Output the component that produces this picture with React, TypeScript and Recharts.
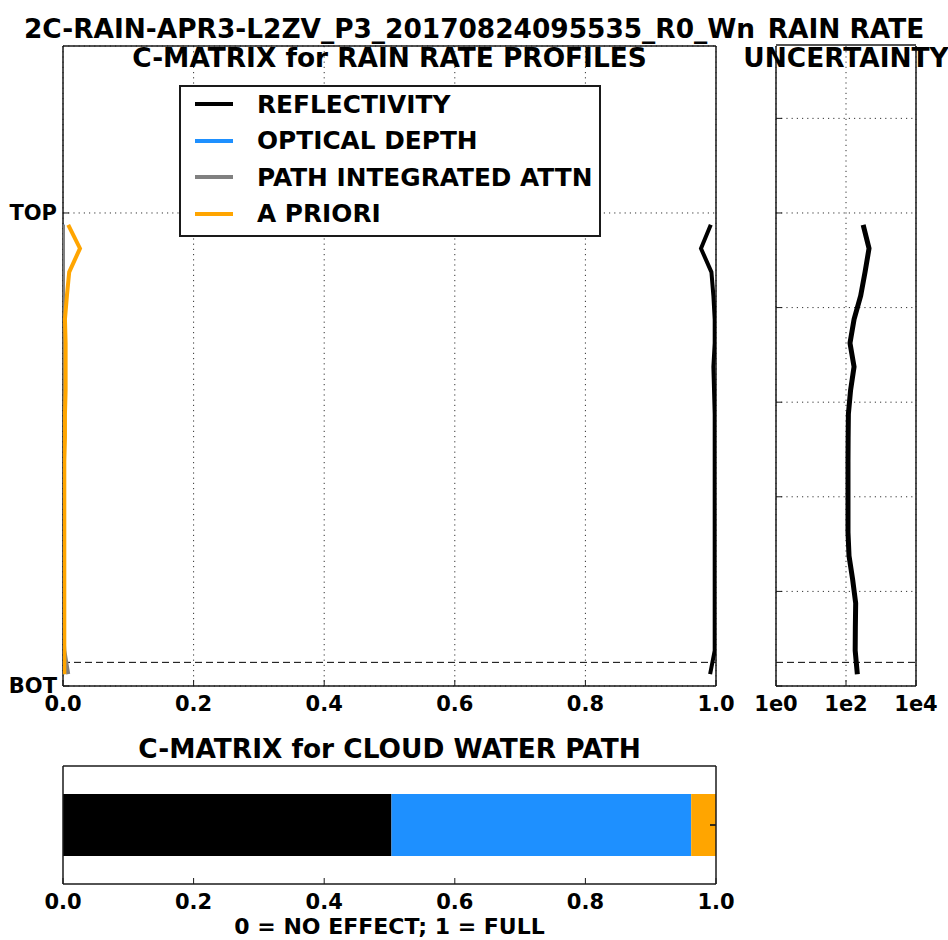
import {
  Bar,
  BarChart,
  CartesianGrid,
  Label,
  Legend,
  ReferenceLine,
  Scatter,
  ScatterChart,
  XAxis,
  YAxis,
} from 'recharts'

const FONT = '"DejaVu Sans", sans-serif'
const INK = '#1a1a1a'

// profile bins, BOT = 0 and TOP = 5, topmost bin first
const levels = [4.875, 4.625, 4.375, 4.125, 3.875, 3.625, 3.375, 3.125, 2.875, 2.625, 2.375, 2.125, 1.875, 1.625, 1.375, 1.125, 0.875, 0.625, 0.375, 0.125]
const reflectivity = [0.992, 0.977, 0.993, 0.996, 0.998, 0.998, 0.996, 0.997, 0.998, 0.998, 0.998, 0.998, 0.998, 0.998, 0.998, 0.998, 0.998, 0.998, 0.998, 0.991]
const opticalDepth = [0, 0, 0, 0, 0, 0, 0, 0, 0, 0, 0, 0, 0, 0, 0, 0, 0, 0, 0, 0]
const pathIntegratedAttn = [0, 0, 0, 0, 0, 0, 0, 0, 0, 0, 0, 0, 0, 0, 0, 0, 0, 0, 0.002, 0.008]
const aPriori = [0.008, 0.026, 0.0095, 0.006, 0.003, 0.004, 0.004, 0.004, 0.003, 0.003, 0.002, 0.002, 0.002, 0.002, 0.002, 0.002, 0.002, 0.002, 0.002, 0.002]
const rainRateUncertainty = [309, 455, 350, 263, 170, 130, 170, 135, 117, 115, 114, 114, 114, 114, 122, 155, 189, 185, 183, 211]

const seriesNames = ['REFLECTIVITY', 'OPTICAL DEPTH', 'PATH INTEGRATED ATTN', 'A PRIORI']
const seriesKeys = ['refl', 'od', 'pia', 'apr']
const seriesColors = ['#000000', '#1e90ff', '#808080', '#ffa500']
const profiles = [reflectivity, opticalDepth, pathIntegratedAttn, aPriori]

// cloud water path c-matrix, same order as the series
const cwpWeights = [0.503, 0.459, 0.0, 0.038]

const fractionTicks = [0, 0.2, 0.4, 0.6, 0.8, 1.0]
const levelTicks = [0, 5]
const levelTickLabels = ['BOT', 'TOP']
const levelMax = 6.765
const lowestBin = 0.25
const uncertaintyLevelTicks = [0, 1, 2, 3, 4, 5, 6]
const logTicks = [1, 100, 10000]
const logTickLabels = ['1e0', '1e2', '1e4']
const minorLogTicks = [2, 3, 4, 5, 6, 7, 8, 9, 20, 30, 40, 50, 60, 70, 80, 90, 200, 300, 400, 500, 600, 700, 800, 900, 2000, 3000, 4000, 5000, 6000, 7000, 8000, 9000]

const axisLine = { stroke: INK, strokeWidth: 1.5 }
const tickLine = { stroke: INK, strokeWidth: 1 }
const tickText = { fontSize: 21, fontWeight: 'bold', fill: '#000', fontFamily: FONT }
const gridProps = { stroke: '#333', strokeWidth: 1, strokeDasharray: '1.2 4' }
const dashed = { stroke: '#000', strokeWidth: 1, strokeDasharray: '7 4' }

const noDot = () => <g />
// tick marks only, no label
const bareTick = () => <g />

function PanelTitle({ center, top, lines }: { center: number; top: number; lines: string[] }) {
  return (
    <div
      style={{
        position: 'absolute',
        left: center - 400,
        top,
        width: 800,
        textAlign: 'center',
        whiteSpace: 'nowrap',
        fontFamily: FONT,
        fontWeight: 'bold',
        fontSize: 26.4,
        lineHeight: '29px',
        color: '#000',
      }}
    >
      {lines.map((l) => (
        <div key={l}>{l}</div>
      ))}
    </div>
  )
}

function LegendBox() {
  return (
    <div
      style={{
        position: 'relative',
        boxSizing: 'border-box',
        width: 422,
        height: 152,
        border: `2px solid ${INK}`,
        background: '#fff',
        fontFamily: FONT,
        fontWeight: 'bold',
        fontSize: 24.8,
        color: '#000',
      }}
    >
      {seriesNames.map((name, i) => (
        <div
          key={name}
          style={{ position: 'absolute', left: 14, top: 17 + i * 36.5 - 15, height: 30, display: 'flex', alignItems: 'center', whiteSpace: 'nowrap' }}
        >
          <span style={{ display: 'inline-block', width: 38, height: 4, background: seriesColors[i] }} />
          <span style={{ marginLeft: 24 }}>{name}</span>
        </div>
      ))}
    </div>
  )
}

function ProfilePanel() {
  return (
    <ScatterChart width={740} height={720} margin={{ top: 45, right: 23, bottom: 33, left: 62 }}>
      <CartesianGrid {...gridProps} />
      <XAxis
        type="number"
        dataKey="v"
        domain={[0, 1]}
        ticks={fractionTicks}
        interval={0}
        allowDataOverflow
        height={1}
        tickFormatter={(v) => Number(v).toFixed(1)}
        tick={tickText}
        tickSize={-6}
        tickMargin={16}
        axisLine={axisLine}
        tickLine={tickLine}
      />
      <XAxis xAxisId="top" orientation="top" type="number" domain={[0, 1]} ticks={fractionTicks} interval={0} height={1} tick={bareTick} tickSize={-6} axisLine={axisLine} tickLine={tickLine} />
      <YAxis
        type="number"
        dataKey="h"
        domain={[0, levelMax]}
        ticks={levelTicks}
        interval={0}
        allowDataOverflow
        width={1}
        tickFormatter={(v) => levelTickLabels[levelTicks.indexOf(v)]}
        tick={tickText}
        tickSize={-6}
        tickMargin={12}
        axisLine={axisLine}
        tickLine={tickLine}
      />
      <YAxis yAxisId="right" orientation="right" type="number" domain={[0, levelMax]} ticks={levelTicks} interval={0} width={1} tick={bareTick} tickSize={-6} axisLine={axisLine} tickLine={tickLine} />
      <ReferenceLine y={lowestBin} {...dashed} />
      {profiles.map((p, i) => (
        <Scatter
          key={seriesKeys[i]}
          name={seriesNames[i]}
          data={levels.map((h, j) => ({ v: p[j], h }))}
          fill={seriesColors[i]}
          line={{ stroke: seriesColors[i], strokeWidth: 4 }}
          lineJointType="linear"
          shape={noDot}
          isAnimationActive={false}
        />
      ))}
      <Legend
        layout="vertical"
        align="center"
        verticalAlign="middle"
        wrapperStyle={{ left: 179, top: 85, width: 422, height: 152 }}
        content={() => <LegendBox />}
      />
    </ScatterChart>
  )
}

function UncertaintyPanel() {
  return (
    <ScatterChart width={208} height={720} margin={{ top: 44, right: 31, bottom: 32, left: 35 }}>
      <CartesianGrid {...gridProps} horizontalValues={uncertaintyLevelTicks} />
      <XAxis
        type="number"
        dataKey="u"
        scale="log"
        domain={[1, 10000]}
        ticks={logTicks}
        interval={0}
        allowDataOverflow
        height={1}
        tickFormatter={(v) => logTickLabels[logTicks.indexOf(v)]}
        tick={tickText}
        tickSize={-6}
        tickMargin={16}
        axisLine={axisLine}
        tickLine={tickLine}
      />
      <XAxis xAxisId="minorB" type="number" scale="log" domain={[1, 10000]} ticks={minorLogTicks} interval={0} height={1} tick={bareTick} tickSize={-3} axisLine={false} tickLine={tickLine} />
      <XAxis xAxisId="top" orientation="top" type="number" scale="log" domain={[1, 10000]} ticks={logTicks} interval={0} height={1} tick={bareTick} tickSize={-6} axisLine={axisLine} tickLine={tickLine} />
      <XAxis xAxisId="minorT" orientation="top" type="number" scale="log" domain={[1, 10000]} ticks={minorLogTicks} interval={0} height={1} tick={bareTick} tickSize={-3} axisLine={false} tickLine={tickLine} />
      <YAxis type="number" dataKey="h" domain={[0, levelMax]} ticks={uncertaintyLevelTicks} interval={0} allowDataOverflow width={1} tick={bareTick} tickSize={-6} axisLine={axisLine} tickLine={tickLine} />
      <YAxis yAxisId="right" orientation="right" type="number" domain={[0, levelMax]} ticks={uncertaintyLevelTicks} interval={0} width={1} tick={bareTick} tickSize={-6} axisLine={axisLine} tickLine={tickLine} />
      <ReferenceLine y={lowestBin} {...dashed} />
      <Scatter
        name="RAIN RATE UNCERTAINTY"
        data={levels.map((h, j) => ({ u: rainRateUncertainty[j], h }))}
        fill="#000"
        line={{ stroke: '#000', strokeWidth: 5 }}
        lineJointType="linear"
        shape={noDot}
        isAnimationActive={false}
      />
    </ScatterChart>
  )
}

function CloudWaterPanel() {
  const row: Record<string, number | string> = { name: 'CWP' }
  seriesKeys.forEach((k, i) => {
    row[k] = cwpWeights[i]
  })
  return (
    <BarChart width={740} height={210} layout="vertical" data={[row]} margin={{ top: 35, right: 23, bottom: 55, left: 62 }} barCategoryGap="23.7%">
      <XAxis
        type="number"
        domain={[0, 1]}
        ticks={fractionTicks}
        interval={0}
        height={1}
        tickFormatter={(v) => Number(v).toFixed(1)}
        tick={tickText}
        tickSize={-6}
        tickMargin={16}
        axisLine={axisLine}
        tickLine={tickLine}
      >
        <Label value="0 = NO EFFECT; 1 = FULL" position="bottom" offset={33} fontSize={22} fontWeight="bold" fill="#000" fontFamily={FONT} />
      </XAxis>
      <XAxis xAxisId="top" orientation="top" type="number" domain={[0, 1]} ticks={fractionTicks} interval={0} height={1} tick={bareTick} tickSize={-6} axisLine={axisLine} tickLine={tickLine} />
      <YAxis type="category" dataKey="name" width={1} tick={false} tickLine={false} axisLine={axisLine} />
      <YAxis yAxisId="r" orientation="right" type="number" domain={[-0.95, 0.95]} ticks={[-0.5, 0, 0.5]} interval={0} width={1} tick={bareTick} tickSize={-6} axisLine={axisLine} tickLine={tickLine} />
      {seriesKeys.map((k, i) => (
        <Bar key={k} dataKey={k} stackId="cwp" fill={seriesColors[i]} isAnimationActive={false} />
      ))}
    </BarChart>
  )
}

export default function App() {
  return (
    <div style={{ position: 'absolute', left: 0, top: 0, width: 948, height: 940, overflow: 'hidden', background: '#fff' }}>
      <div style={{ position: 'absolute', left: 0, top: 0 }}>
        <ProfilePanel />
      </div>
      <div style={{ position: 'absolute', left: 740, top: 0 }}>
        <UncertaintyPanel />
      </div>
      <div style={{ position: 'absolute', left: 0, top: 730 }}>
        <CloudWaterPanel />
      </div>
      <PanelTitle center={389.5} top={13.5} lines={['2C-RAIN-APR3-L2ZV_P3_20170824095535_R0_Wn', 'C-MATRIX for RAIN RATE PROFILES']} />
      <PanelTitle center={846} top={13.5} lines={['RAIN RATE', 'UNCERTAINTY']} />
      <PanelTitle center={389.5} top={734} lines={['C-MATRIX for CLOUD WATER PATH']} />
    </div>
  )
}
